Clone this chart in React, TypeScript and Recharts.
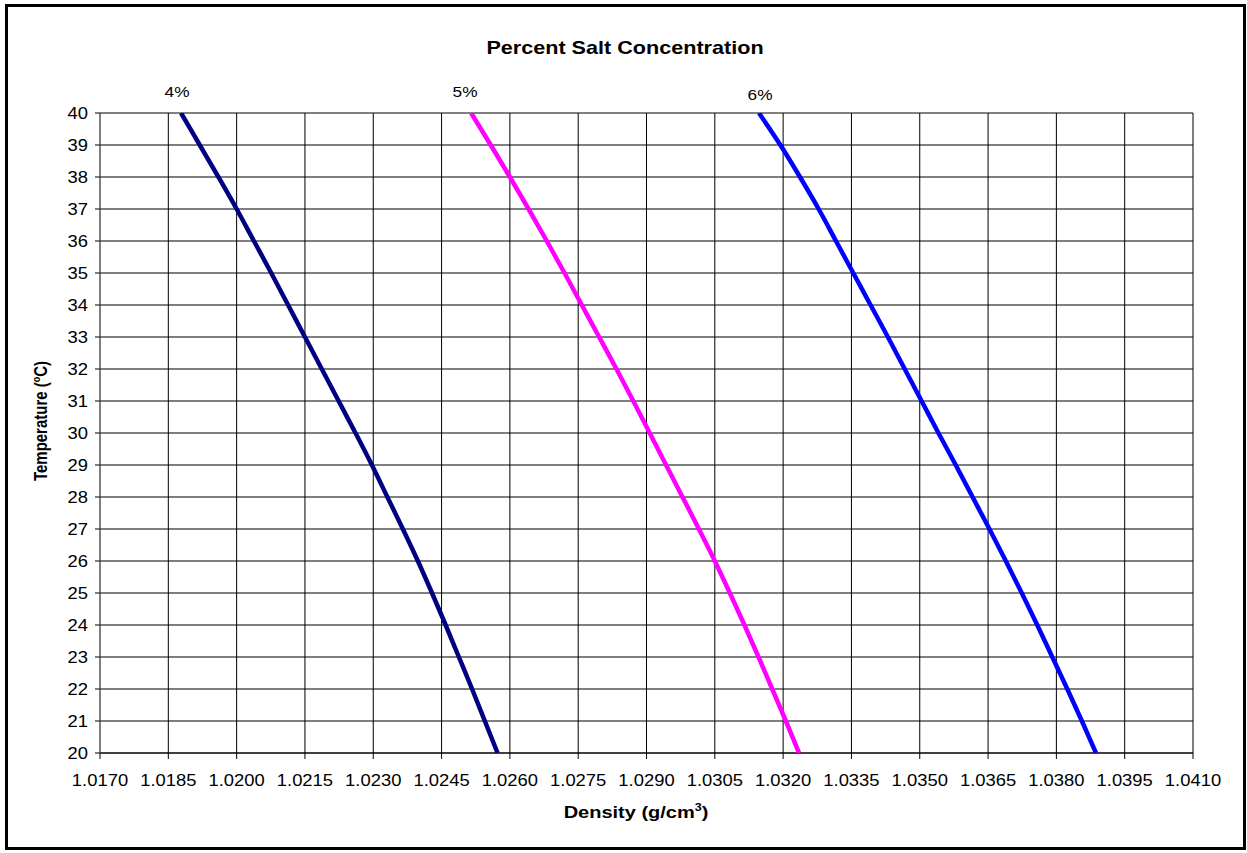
import React from "react";
import {
  ScatterChart,
  Scatter,
  XAxis,
  YAxis,
  CartesianGrid,
} from "recharts";

// temperature (°C), from 40 down to 20
const temperatures = [40, 39, 38, 37, 36, 35, 34, 33, 32, 31, 30, 29, 28, 27, 26, 25, 24, 23, 22, 21, 20];

// density (g/cm3) for each temperature above
const density4 = [
  1.01878, 1.01919, 1.0196, 1.02, 1.02038, 1.02076, 1.02113, 1.0215, 1.02187, 1.02224, 1.02261,
  1.02297, 1.02331, 1.02365, 1.02398, 1.02429, 1.02459, 1.02488, 1.02517, 1.02545, 1.02573,
];
const density5 = [
  1.02515, 1.02558, 1.026, 1.02641, 1.02681, 1.0272, 1.02758, 1.02796, 1.02834, 1.02871, 1.02907,
  1.02943, 1.02979, 1.03015, 1.0305, 1.03083, 1.03115, 1.03146, 1.03176, 1.03206, 1.03235,
];
const density6 = [
  1.03147, 1.03194, 1.03237, 1.03278, 1.03316, 1.03354, 1.03392, 1.0343, 1.03467, 1.03504, 1.03541,
  1.03579, 1.03616, 1.03653, 1.03689, 1.03724, 1.03758, 1.03791, 1.03824, 1.03856, 1.03887,
];

const densityTicks = [
  1.017, 1.0185, 1.02, 1.0215, 1.023, 1.0245, 1.026, 1.0275, 1.029, 1.0305, 1.032, 1.0335, 1.035,
  1.0365, 1.038, 1.0395, 1.041,
];
const temperatureTicks = [20, 21, 22, 23, 24, 25, 26, 27, 28, 29, 30, 31, 32, 33, 34, 35, 36, 37, 38, 39, 40];

const toPoints = (densities: number[]) =>
  densities.map((d, i) => ({ d, t: temperatures[i] }));

const series = [
  { name: "4%", color: "#000080", data: toPoints(density4) },
  { name: "5%", color: "#FF00FF", data: toPoints(density5) },
  { name: "6%", color: "#0000FF", data: toPoints(density6) },
];

const FONT = "'Liberation Sans', Arial, sans-serif";

const XTick = (props: any) => {
  const { x, y, payload } = props;
  return (
    <g transform={`translate(${x},${y})`}>
      <text x={0} y={0} dy={19} textAnchor="middle" fontSize={16} fontFamily={FONT} fill="#000" transform="scale(1.15,1)">
        {Number(payload.value).toFixed(4)}
      </text>
    </g>
  );
};

const YTick = (props: any) => {
  const { x, y, payload } = props;
  return (
    <g transform={`translate(${x},${y})`}>
      <text x={0} y={0} dy={6} textAnchor="end" fontSize={16} fontFamily={FONT} fill="#000" transform="scale(1.15,1)">
        {payload.value}
      </text>
    </g>
  );
};

const NoDot = () => <g />;

export default function App() {
  return (
    <div style={{ position: "absolute", left: 0, top: 0, width: 1247, height: 853, background: "#fff" }}>
      <div
        style={{
          position: "absolute",
          left: 5,
          top: 4,
          width: 1241,
          height: 846,
          border: "3px solid #000",
          boxSizing: "border-box",
        }}
      />
      <div style={{ position: "absolute", left: 0, top: 0 }}>
        <ScatterChart width={1247} height={853} margin={{ top: 113, right: 54, bottom: 60, left: 40 }}>
          <CartesianGrid stroke="#000" strokeWidth={1} />
          <XAxis
            type="number"
            dataKey="d"
            domain={[1.017, 1.041]}
            ticks={densityTicks}
            interval={0}
            allowDataOverflow
            height={40}
            tickSize={6}
            tickMargin={8}
            tick={XTick}
            tickLine={{ stroke: "#000" }}
            axisLine={{ stroke: "#000" }}
          />
          <YAxis
            type="number"
            dataKey="t"
            domain={[20, 40]}
            ticks={temperatureTicks}
            interval={0}
            allowDataOverflow
            width={60}
            tickSize={5}
            tickMargin={7}
            tick={YTick}
            tickLine={{ stroke: "#000" }}
            axisLine={{ stroke: "#808080" }}
          />
          <XAxis
            xAxisId="top"
            orientation="top"
            type="number"
            domain={[1.017, 1.041]}
            height={0}
            tick={false}
            tickLine={false}
            axisLine={{ stroke: "#808080" }}
          />
          <YAxis
            yAxisId="right"
            orientation="right"
            type="number"
            domain={[20, 40]}
            width={0}
            tick={false}
            tickLine={false}
            axisLine={{ stroke: "#808080" }}
          />
          {series.map((s) => (
            <Scatter
              key={s.name}
              name={s.name}
              data={s.data}
              fill={s.color}
              line={{ stroke: s.color, strokeWidth: 4.5 }}
              lineType="joint"
              lineJointType="monotoneY"
              shape={NoDot}
              isAnimationActive={false}
            />
          ))}
        </ScatterChart>
      </div>
      <svg
        width={1247}
        height={853}
        style={{ position: "absolute", left: 0, top: 0, pointerEvents: "none" }}
        fontFamily={FONT}
      >
        <g transform="translate(625,54)">
          <text textAnchor="middle" fontSize={18} fontWeight="bold" transform="scale(1.2,1)">
            Percent Salt Concentration
          </text>
        </g>
        <g transform="translate(177,97)">
          <text textAnchor="middle" fontSize={15} transform="scale(1.15,1)">4%</text>
        </g>
        <g transform="translate(465,97)">
          <text textAnchor="middle" fontSize={15} transform="scale(1.15,1)">5%</text>
        </g>
        <g transform="translate(760,100)">
          <text textAnchor="middle" fontSize={15} transform="scale(1.15,1)">6%</text>
        </g>
        <g transform="translate(636,818)">
          <text textAnchor="middle" fontSize={16} fontWeight="bold" transform="scale(1.25,1)">
            Density (g/cm<tspan fontSize={10} dy={-7}>3</tspan>
            <tspan dy={7}>)</tspan>
          </text>
        </g>
        <g transform="translate(47,421) rotate(-90)">
          <text textAnchor="middle" fontSize={15} fontWeight="bold" transform="scale(1,1.2)">
            Temperature (<tspan fontSize={9} dy={-6}>o</tspan>
            <tspan dy={6}>C)</tspan>
          </text>
        </g>
      </svg>
    </div>
  );
}
